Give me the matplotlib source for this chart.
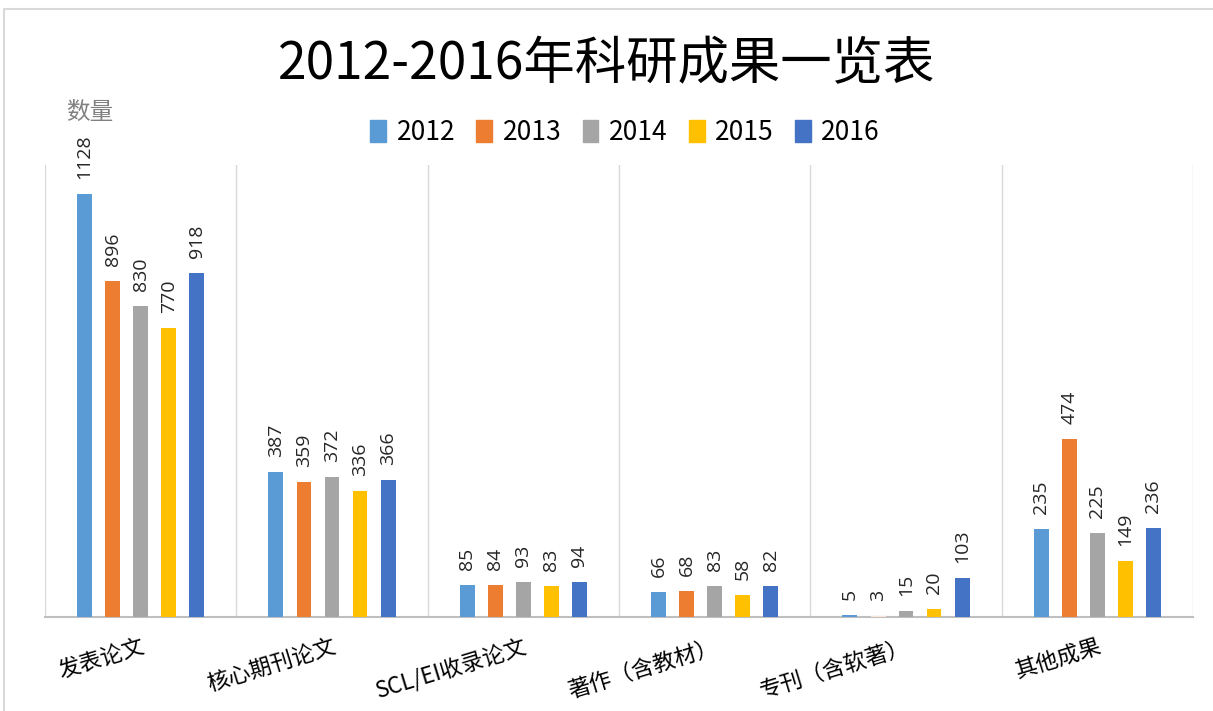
import matplotlib
matplotlib.use("Agg")
import matplotlib.pyplot as plt
from matplotlib.patches import Rectangle
import numpy as np

plt.rcParams['font.family'] = ['Noto Sans CJK SC', 'DejaVu Sans']

categories = ["发表论文", "核心期刊论文", "SCL/EI收录论文", "著作（含教材）", "专刊（含软著）", "其他成果"]
years = ["2012", "2013", "2014", "2015", "2016"]
v2012 = [1128, 387, 85, 66, 5, 235]
v2013 = [896, 359, 84, 68, 3, 474]
v2014 = [830, 372, 93, 83, 15, 225]
v2015 = [770, 336, 83, 58, 20, 149]
v2016 = [918, 366, 94, 82, 103, 236]
series = [v2012, v2013, v2014, v2015, v2016]
colors = ["#5B9BD5", "#ED7D31", "#A5A5A5", "#FFC000", "#4472C4"]

W, H = 1213, 711
fig = plt.figure(figsize=(W/100, H/100), dpi=100)
fig.patches.append(Rectangle((4/W, -0.1), 1.2, 1 - 9/H + 0.1, transform=fig.transFigure,
                             fill=False, edgecolor="#D9D9D9", linewidth=1.5))

ax = fig.add_axes([45/W, 1-617/H, (1193-45)/W, (617-165)/H])
x = np.arange(len(categories))
step = 0.1465
bw = 0.078
for i, (vals, c) in enumerate(zip(series, colors)):
    pos = x + (i - 2) * step
    bars = ax.bar(pos, vals, width=bw, color=c, zorder=3)
    for j, (p, v) in enumerate(zip(pos, vals)):
        if i == 1 and j == 4:
            bars[j].set_color("#FBE5D6")
        ax.text(p, v + 40, str(v), rotation=90, ha="center", va="bottom",
                fontsize=14, color="#262626", family=["Open Sans", "DejaVu Sans"])

ax.set_xlim(-0.5, len(categories) - 0.5)
ax.set_ylim(0, 1205)
for b in np.arange(-0.5, len(categories), 1.0):
    ax.axvline(b, color="#D9D9D9", linewidth=1, zorder=1)
for s in ["top", "right", "left"]:
    ax.spines[s].set_visible(False)
ax.spines["bottom"].set_color("#BFBFBF")
ax.spines["bottom"].set_linewidth(1.5)
ax.set_yticks([])
ax.set_xticks(x)
ax.set_xticklabels(categories, rotation=17, fontsize=16, ha="right", va="top",
                   rotation_mode="anchor", color="#000000")
ax.tick_params(axis="x", length=0, pad=13)

fig.text(0.5, 1 - 64/H, "2012-2016年科研成果一览表", ha="center", va="center",
         fontsize=37, color="#000000", fontweight="medium")
fig.text(66/W, 1 - 112/H, "数量", ha="left", va="center", fontsize=17, color="#808080")

handles = [Rectangle((0, 0), 1, 1, color=c) for c in colors]
fig.legend(handles, years, loc="center", bbox_to_anchor=(625/W, 1 - 133/H), ncol=5,
           frameon=False, fontsize=19, handlelength=0.6, handleheight=0.9,
           handletextpad=0.4, columnspacing=0.8)

fig.savefig("out.png", dpi=100)
